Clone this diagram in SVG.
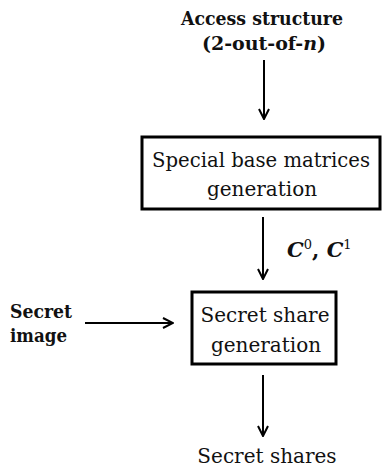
<svg xmlns="http://www.w3.org/2000/svg" width="382" height="475" viewBox="0 0 382 475">
  <defs>
    <marker id="arr" viewBox="0 0 12 12" refX="11" refY="6" markerWidth="12" markerHeight="12" markerUnits="userSpaceOnUse" orient="auto">
      <path d="M1,1 L11,6 L1,11" fill="none" stroke="#000" stroke-width="2"/>
    </marker>
  </defs>
  <style>
    text { font-family: 'DejaVu Serif', serif; fill: #111; }
    .b { font-weight: bold; }
    .box { fill: #fff; stroke: #000; stroke-width: 3; }
    .edge { stroke: #000; stroke-width: 2; fill: none; marker-end: url(#arr); }
  </style>
  <rect width="382" height="475" fill="#fff"/>

  <g id="access">
    <text class="b" x="262" y="25" font-size="19" text-anchor="middle" textLength="162" lengthAdjust="spacingAndGlyphs">Access structure</text>
    <text class="b" x="264" y="50" font-size="19" text-anchor="middle">(2-out-of-<tspan font-style="italic">n</tspan>)</text>
  </g>

  <g id="base">
    <rect class="box" x="142" y="137" width="238" height="72"/>
    <text x="261" y="167" font-size="20" text-anchor="middle" textLength="218" lengthAdjust="spacingAndGlyphs">Special base matrices</text>
    <text x="262" y="196" font-size="20" text-anchor="middle">generation</text>
  </g>

  <g id="share">
    <rect class="box" x="192" y="292" width="144" height="72"/>
    <text x="265" y="322" font-size="20" text-anchor="middle">Secret share</text>
    <text x="266" y="352" font-size="20" text-anchor="middle">generation</text>
  </g>

  <g id="secretimage">
    <text class="b" x="10" y="318" font-size="19" textLength="62" lengthAdjust="spacingAndGlyphs">Secret</text>
    <text class="b" x="10" y="342" font-size="19" textLength="57" lengthAdjust="spacingAndGlyphs">image</text>
  </g>

  <g id="shares">
    <text x="267" y="463" font-size="20" text-anchor="middle">Secret shares</text>
  </g>

  <g id="connectors">
    <line class="edge" x1="264" y1="60" x2="264" y2="119"/>
    <line class="edge" x1="263" y1="217" x2="263" y2="279"/>
    <line class="edge" x1="85" y1="323" x2="173" y2="323"/>
    <line class="edge" x1="263" y1="375" x2="263" y2="436"/>
    <text class="b" x="287" y="257" font-size="21"><tspan font-style="italic">C</tspan><tspan font-size="13" font-weight="normal" dy="-8">0</tspan><tspan dy="8">, </tspan><tspan font-style="italic">C</tspan><tspan font-size="13" font-weight="normal" dy="-8">1</tspan></text>
  </g>
</svg>
